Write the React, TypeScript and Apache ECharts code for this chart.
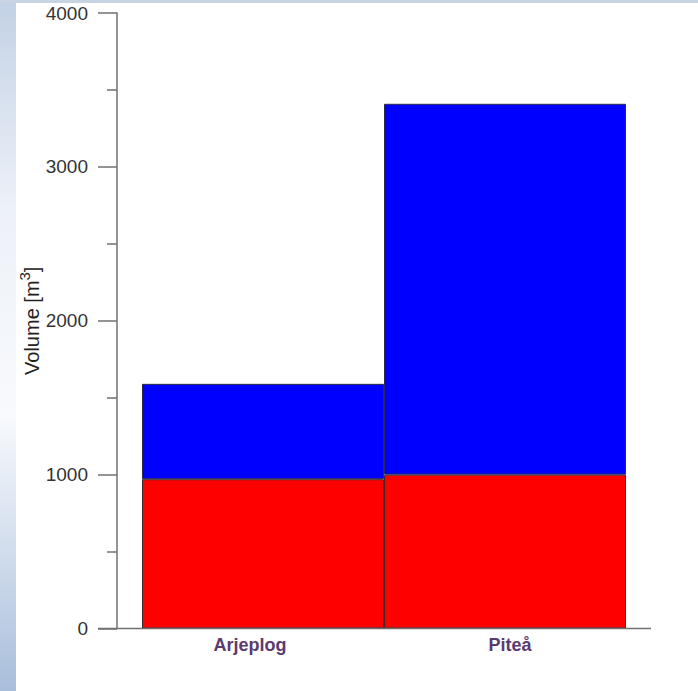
import React, { useEffect, useRef } from "react";
import * as echarts from "echarts";

const categories = ["Arjeplog", "Piteå"];
const redValues = [970, 1000];
const blueValues = [620, 2410];
const yTicks = { min: 0, max: 4000, interval: 1000 };

export default function App() {
  const ref = useRef<HTMLDivElement>(null);
  useEffect(() => {
    if (!ref.current) return;
    const chart = echarts.init(ref.current, undefined, { renderer: "svg" });
    const axisColor = "#707070";
    const font = "'Liberation Sans', Arial, sans-serif";
    chart.setOption({
      animation: false,
      backgroundColor: "#ffffff",
      graphic: [
        {
          type: "rect",
          z: -10,
          silent: true,
          shape: { x: 0, y: 0, width: 16, height: 691 },
          style: {
            fill: new echarts.graphic.LinearGradient(0, 0, 0, 1, [
              { offset: 0, color: "#c3d1e5" },
              { offset: 0.3, color: "#edf1f8" },
              { offset: 0.6, color: "#f8fafd" },
              { offset: 1, color: "#a9bedb" },
            ]),
          },
        },
        {
          type: "rect",
          z: -10,
          silent: true,
          shape: { x: 0, y: 0, width: 698, height: 3 },
          style: { fill: "#c8d4e4" },
        },
        {
          type: "line",
          silent: true,
          z: 10,
          shape: { x1: 98, y1: 628.5, x2: 651, y2: 628.5 },
          style: { stroke: axisColor, lineWidth: 1.5 },
        },
      ],
      grid: { left: 142, right: 72, top: 13, bottom: 62.5 },
      xAxis: {
        type: "category",
        data: [
          { value: categories[0], textStyle: { padding: [0, 26, 0, 0] } },
          { value: categories[1], textStyle: { padding: [0, 0, 0, 10] } },
        ],
        axisLine: { show: false },
        axisTick: { show: false },
        axisLabel: {
          margin: 7,
          color: "#5b3a70",
          fontWeight: "bold",
          fontSize: 18,
          fontFamily: font,
        },
      },
      yAxis: {
        type: "value",
        min: yTicks.min,
        max: yTicks.max,
        interval: yTicks.interval,
        offset: 25,
        name: "{a|Volume [m}{s|3}{a|]}",
        nameLocation: "middle",
        nameGap: 75,
        nameMoveOverlap: false,
        nameTextStyle: {
          color: "#222",
          fontSize: 20,
          fontFamily: font,
          rich: {
            a: { color: "#222", fontSize: 20, fontFamily: font, verticalAlign: "bottom", lineHeight: 25 },
            s: { color: "#222", fontSize: 15, fontFamily: font, verticalAlign: "top", lineHeight: 25, padding: [0, 0, 8, 0] },
          },
        },
        axisLine: { show: true, lineStyle: { color: axisColor, width: 1.5 } },
        axisTick: { show: true, length: 19, lineStyle: { color: axisColor, width: 1.5 } },
        minorTick: { show: true, splitNumber: 2, length: 10, lineStyle: { color: axisColor, width: 1.5 } },
        splitLine: { show: false },
        axisLabel: {
          margin: 29,
          color: "#333",
          fontSize: 19,
          fontFamily: font,
          formatter: (v: number) => String(v),
        },
      },
      series: [
        {
          type: "bar",
          stack: "v",
          data: redValues,
          barWidth: "100%",
          barCategoryGap: "0%",
          itemStyle: { color: "#ff0000", borderColor: "#3a2a2a", borderWidth: 1 },
        },
        {
          type: "bar",
          stack: "v",
          data: blueValues,
          barWidth: "100%",
          barCategoryGap: "0%",
          itemStyle: { color: "#0000ff", borderColor: "#2a2a4a", borderWidth: 1 },
        },
      ],
    });
    return () => chart.dispose();
  }, []);
  return (
    <div
      ref={ref}
      style={{ position: "fixed", left: 0, top: 0, width: 698, height: 691 }}
    />
  );
}
